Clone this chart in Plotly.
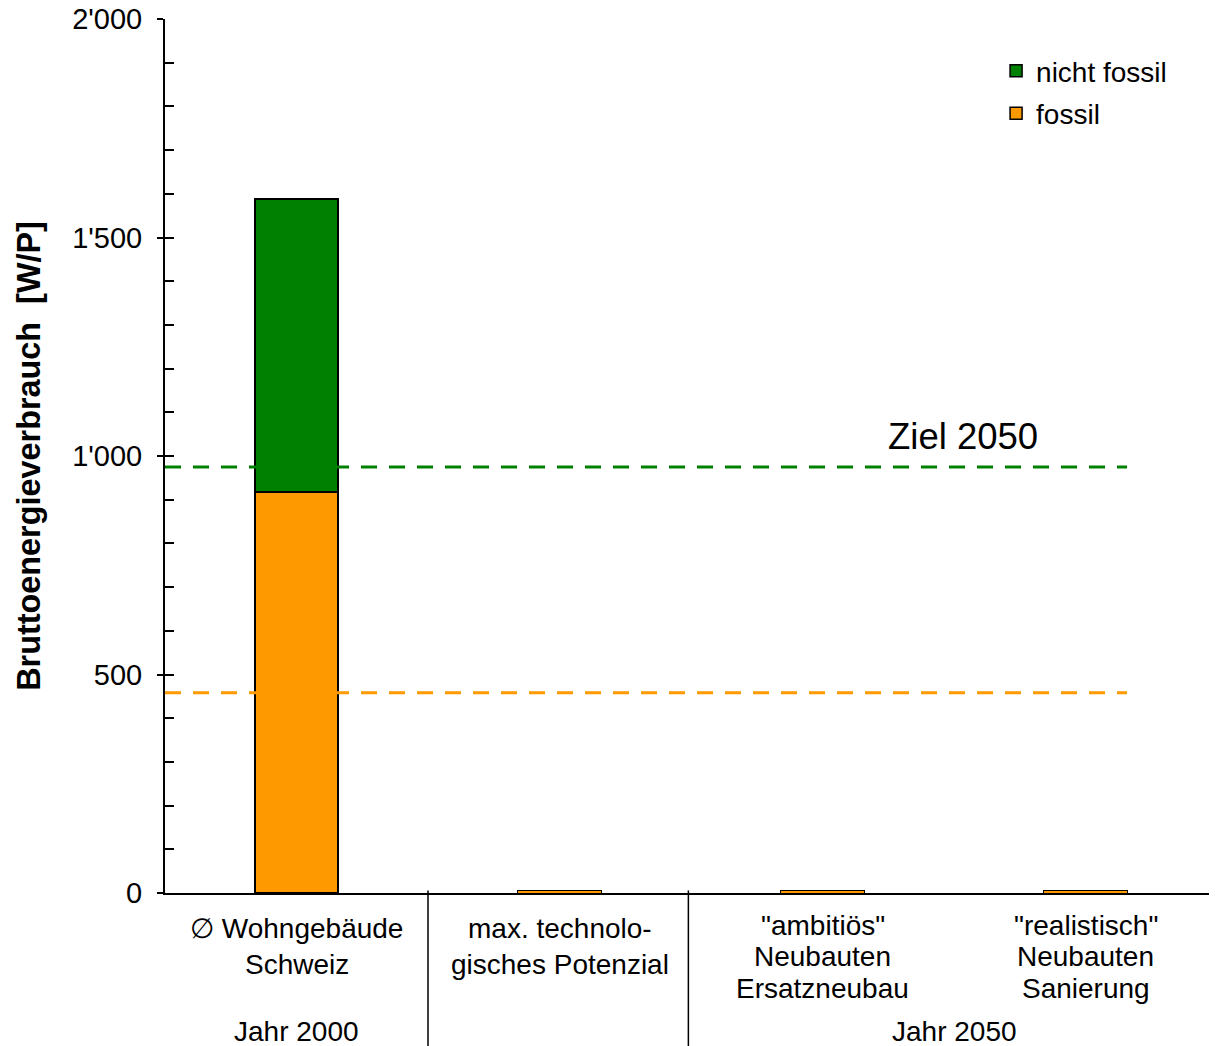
import plotly.graph_objects as go

categories = ["∅ Wohngebäude<br>Schweiz", "max. technolo-<br>gisches Potenzial",
              "\"ambitiös\"<br>Neubauten<br>Ersatzneubau", "\"realistisch\"<br>Neubauten<br>Sanierung"]
fossil = [918, 6, 6, 6]
nicht_fossil = [670, 0, 0, 0]
ziel_total = 975
ziel_fossil = 458
y_ticks = [0, 500, 1000, 1500, 2000]
group_labels = ["Jahr 2000", "Jahr 2050"]
group_centers = [0, 2.5]

GREEN = "#008000"
ORANGE = "#FF9900"
FONT = "Liberation Sans, Arial, sans-serif"
x = list(range(len(categories)))
bar_w = 0.316

fig = go.Figure()
fig.add_trace(go.Bar(x=x, y=fossil, name="fossil", width=bar_w,
                     marker=dict(color=ORANGE, line=dict(color="black", width=[1.5, 1, 1, 1])),
                     legendgroup="fossil", legendrank=2))
fig.add_trace(go.Bar(x=x, y=nicht_fossil, name="nicht fossil", width=bar_w,
                     marker=dict(color=GREEN, line=dict(color="black", width=1.5)),
                     legendgroup="nicht", legendrank=1))
# overlay axis for inside minor ticks
fig.add_trace(go.Scatter(x=[0], y=[0], yaxis="y2", mode="markers",
                         marker=dict(opacity=0), showlegend=False, hoverinfo="skip"))

x_end = x[-1] + bar_w / 2
fig.add_shape(type="line", xref="x", yref="y", x0=-0.5, x1=x_end, y0=ziel_total, y1=ziel_total,
              line=dict(color=GREEN, width=3, dash="16px,12px"))
fig.add_shape(type="line", xref="x", yref="y", x0=-0.5, x1=x_end, y0=ziel_fossil, y1=ziel_fossil,
              line=dict(color=ORANGE, width=3, dash="16px,12px"))
fig.add_annotation(x=2.535, y=ziel_total, xref="x", yref="y", text="Ziel 2050", showarrow=False,
                   yanchor="bottom", yshift=8, font=dict(size=36.5, color="black", family=FONT))

# separators below axis
for sx in [0.5, 1.49]:
    fig.add_shape(type="line", xref="x", yref="paper", x0=sx, x1=sx, y0=0.003, y1=-0.2,
                  line=dict(color="black", width=1.5))

# category labels, line by line
for xi, label in zip(x, categories):
    lines = label.split("<br>")
    first, gap = (35, 36) if len(lines) == 2 else (32, 31.5)
    for k, line in enumerate(lines):
        fig.add_annotation(x=xi, y=0, xref="x", yref="paper", text=line, showarrow=False,
                           yanchor="middle", yshift=-(first + k * gap),
                           font=dict(size=28, color="black", family=FONT))

for gx, gl in zip(group_centers, group_labels):
    fig.add_annotation(x=gx, y=0, xref="x", yref="paper", text=gl, showarrow=False,
                       yanchor="middle", yshift=-138,
                       font=dict(size=28, color="black", family=FONT))

fig.update_layout(
    width=1209, height=1038,
    margin=dict(l=157, r=0, t=11, b=153, autoexpand=False),
    paper_bgcolor="white", plot_bgcolor="white",
    barmode="stack",
    separators=".'",
    font=dict(family=FONT, size=28, color="black"),
    showlegend=True,
    legend=dict(x=0.79, y=0.969, xanchor="left", yanchor="top", traceorder="grouped",
                bgcolor="rgba(0,0,0,0)", font=dict(size=28, color="black"), tracegroupgap=3),
    xaxis=dict(range=[-0.5, 3.5], tickvals=x, showticklabels=False, showline=True,
               linecolor="black", linewidth=2, ticks="", showgrid=False, zeroline=False,
               automargin=False),
    yaxis=dict(range=[0, 2000], tickvals=y_ticks, tickformat=",d", showline=True,
               linecolor="black", linewidth=2, ticks="outside", ticklen=6, tickwidth=1.5,
               tickcolor="black", showgrid=False, zeroline=False, tickfont=dict(size=29),
               ticklabelstandoff=9, ticklabeloverflow="allow", automargin=False,
               title=dict(text="<b>Bruttoenergieverbrauch  [W/P]</b>", font=dict(size=32.4),
                          standoff=22)),
    yaxis2=dict(range=[0, 2000], overlaying="y", side="left", anchor="x", dtick=100,
                ticks="inside", ticklen=9, tickwidth=1.5, tickcolor="black",
                showticklabels=False, showgrid=False, zeroline=False, showline=False,
                automargin=False),
)

fig.write_html("out.html")
